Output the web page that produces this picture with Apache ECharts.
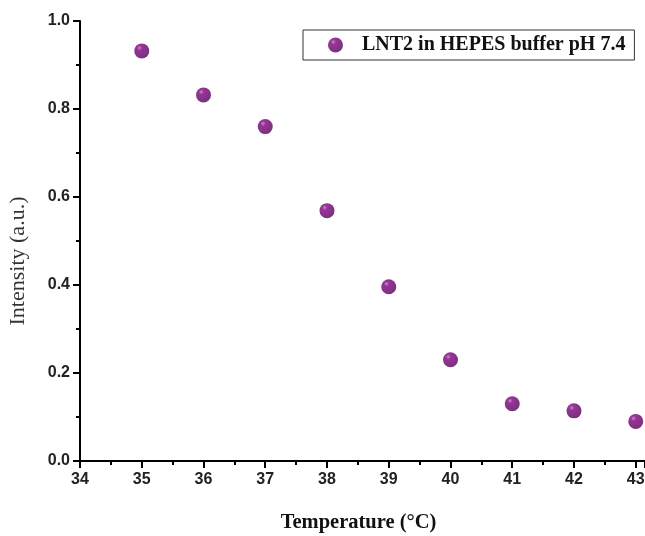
<!DOCTYPE html>
<html><head><meta charset="utf-8">
<script src="https://cdn.jsdelivr.net/npm/echarts@6/dist/echarts.min.js"></script>
<style>html,body{margin:0;padding:0;background:#fff}#c{width:645px;height:536px}</style>
</head><body><div id="c"></div>
<script>
const temperatures = [35, 36, 37, 38, 39, 40, 41, 42, 43];
const intensity = [0.932, 0.832, 0.760, 0.569, 0.396, 0.230, 0.130, 0.114, 0.090];
const seriesName = 'LNT2 in HEPES buffer pH 7.4';

const data = temperatures.map((t, i) => [t, intensity[i]]);
const sphere = {
  type: 'radial', x: 0.35, y: 0.3, r: 0.75,
  colorStops: [{offset: 0, color: '#b878b8'}, {offset: 0.22, color: '#80007f'}, {offset: 1, color: '#520055'}]
};
const chart = echarts.init(document.getElementById('c'));
const tickFont = {fontFamily: 'Liberation Sans, Arial, sans-serif', fontSize: 16, color: '#222', fontWeight: 'bold'};
chart.setOption({
  animation: false,
  grid: {left: 80, right: 0, top: 21, bottom: 75, outerBoundsMode: 'none', containLabel: false},
  legend: {
    left: 303, top: 30,
    data: [seriesName],
    borderColor: '#333', borderWidth: 1, padding: [5, 9, 5, 25],
    itemWidth: 15, itemHeight: 15, itemGap: 10,
    textStyle: {fontFamily: 'Liberation Serif, Times New Roman, serif', fontWeight: 'bold', fontSize: 20, color: '#111', padding: [0, 0, 0, 14]}
  },
  xAxis: [{
    type: 'value', min: 34, max: 43.15, interval: 1,
    name: 'Temperature (°C)', nameLocation: 'middle', nameGap: 51,
    nameTextStyle: {fontFamily: 'Liberation Serif, Times New Roman, serif', fontWeight: 'bold', fontSize: 20.5, color: '#111', padding: [0, 8, 0, 0]},
    axisLine: {show: true, onZero: false, lineStyle: {color: '#000', width: 2}},
    axisTick: {show: true, inside: false, length: 7, lineStyle: {color: '#000', width: 2}},
    minorTick: {show: true, splitNumber: 2, length: 4, lineStyle: {color: '#000', width: 2}},
    axisLabel: Object.assign({margin: 11, formatter: v => (Math.abs(v - Math.round(v)) < 1e-6 ? String(Math.round(v)) : '')}, tickFont),
    splitLine: {show: false}
  }, {
    type: 'value', position: 'top', min: 34, max: 43.15,
    axisLine: {show: true, lineStyle: {color: '#000', width: 2}},
    axisTick: {show: false}, axisLabel: {show: false}, splitLine: {show: false}
  }],
  yAxis: {
    type: 'value', min: 0, max: 1, interval: 0.2,
    name: 'Intensity (a.u.)', nameLocation: 'middle', nameGap: 51,
    nameTextStyle: {fontFamily: 'Liberation Serif, Times New Roman, serif', fontSize: 22, color: '#333', padding: [0, 40, 0, 0]},
    axisLine: {show: true, onZero: false, lineStyle: {color: '#000', width: 2}},
    axisTick: {show: true, inside: false, length: 7, lineStyle: {color: '#000', width: 2}},
    minorTick: {show: true, splitNumber: 2, length: 4, lineStyle: {color: '#000', width: 2}},
    axisLabel: Object.assign({margin: 10, formatter: v => v.toFixed(1)}, tickFont),
    splitLine: {show: false}
  },
  series: [{
    name: seriesName, type: 'scatter', data: data,
    symbol: 'circle', symbolSize: 15,
    itemStyle: {color: sphere}
  }]
});
</script></body></html>
